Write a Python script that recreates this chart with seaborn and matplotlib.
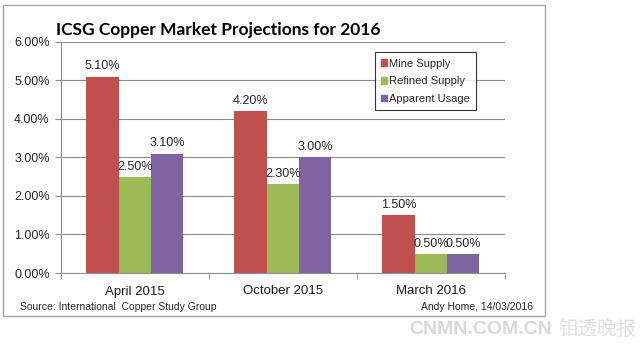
import pandas as pd
import matplotlib
matplotlib.use('Agg')
import matplotlib.pyplot as plt
import matplotlib.patches as mpatches
from matplotlib.ticker import FuncFormatter, FixedLocator
import seaborn as sns

# data
periods = ['April 2015', 'October 2015', 'March 2016']
series = ['Mine Supply', 'Refined Supply', 'Apparent Usage']
mine_supply = [5.10, 4.20, 1.50]
refined_supply = [2.50, 2.30, 0.50]
apparent_usage = [3.10, 3.00, 0.50]
colors = ['#C0504D', '#9BBB59', '#8064A2']

df = pd.DataFrame({
    'period': periods * 3,
    'series': [s for s in series for _ in periods],
    'value': mine_supply + refined_supply + apparent_usage,
})

sns.set_style('white')
plt.rcParams['font.family'] = ['Liberation Sans', 'DejaVu Sans']

fig = plt.figure(figsize=(6.4, 3.64), dpi=100)
fig.patch.set_facecolor('white')

# chart frame (behind the axes)
frame = mpatches.Rectangle((0.004, 0.132), 0.848, 0.854, transform=fig.transFigure,
                           facecolor='white', edgecolor='#A6A6A6', linewidth=1.0, zorder=-5)
fig.patches.append(frame)

ax = fig.add_axes([0.095, 0.25, 0.694, 0.635])
ax.patch.set_alpha(0)
sns.barplot(data=df, x='period', y='value', hue='series', palette=colors,
            width=0.655, gap=0, saturation=1, linewidth=0, ax=ax, legend=False)

for cont in ax.containers:
    ax.bar_label(cont, labels=[f'{v:.2f}%' for v in cont.datavalues],
                 padding=3, fontsize=9, color='#262626')

ax.set_ylim(0, 6)
ax.set_xlim(-0.5, 2.5)
ax.set_yticks(range(0, 7))
ax.yaxis.set_major_formatter(FuncFormatter(lambda v, p: f'{v:.2f}%'))
ax.yaxis.grid(True, color='#8C8C8C', linewidth=0.8)
ax.set_axisbelow(True)
ax.set_xlabel('')
ax.set_ylabel('')
for s in ['top', 'right']:
    ax.spines[s].set_visible(False)
for s in ['left', 'bottom']:
    ax.spines[s].set_color('#8C8C8C')
    ax.spines[s].set_linewidth(0.8)
ax.tick_params(axis='y', labelsize=9, length=4, color='#8C8C8C', direction='out',
               left=True, pad=4, labelcolor='#262626')
ax.tick_params(axis='x', which='major', length=0, labelsize=9.5, pad=9, labelcolor='#1a1a1a')
ax.xaxis.set_minor_locator(FixedLocator([-0.5, 0.5, 1.5, 2.5]))
ax.tick_params(axis='x', which='minor', length=4, color='#8C8C8C', direction='out', bottom=True)

handles = [mpatches.Patch(color=c, label=s) for c, s in zip(colors, series)]
leg = fig.legend(handles=handles, loc='upper left', bbox_to_anchor=(0.586, 0.856),
                 fontsize=8, frameon=True, fancybox=False, edgecolor='black',
                 handlelength=0.55, handleheight=0.55, handletextpad=0.2,
                 borderpad=0.55, labelspacing=0.7, borderaxespad=0)
leg.get_frame().set_linewidth(0.8)

fig.text(0.341, 0.918, 'ICSG Copper Market Projections for 2016', ha='center', va='center',
         fontsize=12.5, fontweight='bold', family=['Lato', 'DejaVu Sans'], color='black')
fig.text(0.031, 0.157, 'Source: International  Copper Study Group', fontsize=7.5,
         ha='left', va='center', color='#262626')
fig.text(0.833, 0.157, 'Andy Home, 14/03/2016', fontsize=7.5,
         ha='right', va='center', color='#262626')

# watermark
fig.text(0.64, 0.095, 'CNMN.COM.CN', fontsize=14, fontweight='bold', color='#D9D9D9',
         ha='left', va='center')
fig.text(0.872, 0.095, '钼透晚报', fontsize=14, color='#E0E0E0', ha='left', va='center',
         family=['Noto Sans CJK SC', 'DejaVu Sans'])

fig.savefig('out.png', dpi=100)
